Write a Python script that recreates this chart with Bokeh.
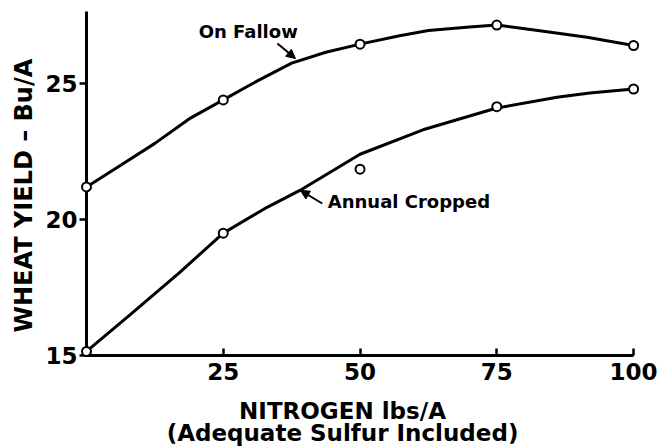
from bokeh.plotting import figure
from bokeh.models import Range1d, FixedTicker, Label, Arrow, NormalHead, Title
from bokeh.core.properties import value
from bokeh.embed import file_html
from bokeh.resources import INLINE

# ---- data ----
nitrogen = [0, 25, 50, 75, 100]
fallow_yield = [21.2, 24.4, 26.45, 27.15, 26.4]
annual_yield = [15.15, 19.5, 21.85, 24.15, 24.8]

# hand-drawn fitted curves
fallow_curve_x = [0, 6.25, 12.5, 18.75, 25, 31.25, 37.5, 43.75, 50, 57, 62.5, 70, 75, 82.5, 91.5, 100]
fallow_curve_y = [21.2, 22.0, 22.8, 23.7, 24.4, 25.1, 25.75, 26.15, 26.45, 26.75, 26.95, 27.08, 27.15, 26.95, 26.7, 26.4]
annual_curve_x = [0, 8, 17, 25, 33, 39, 50, 61.5, 75, 86, 92, 100]
annual_curve_y = [15.15, 16.5, 18.05, 19.5, 20.45, 21.07, 22.4, 23.3, 24.1, 24.5, 24.65, 24.8]

x_ticks = [25, 50, 75, 100]
y_ticks = [15, 20, 25]

x_title_lines = ["NITROGEN lbs/A", "(Adequate Sulfur Included)"]
y_title = "WHEAT YIELD \u2013 Bu/A"

FONT = "DejaVu Sans"
PX_PER_UNIT_Y = 344 / 12.65

p = figure(width=663, height=448, output_backend="svg", toolbar_location=None,
           x_range=Range1d(0, 100.9), y_range=Range1d(15, 27.65),
           min_border_left=86, min_border_right=25, min_border_top=11, min_border_bottom=93)
p.outline_line_color = None
p.grid.visible = False
p.background_fill_color = "white"
p.border_fill_color = "white"

xa = p.xaxis[0]
xa.ticker = FixedTicker(ticks=x_ticks)
xa.bounds = (0, 100)
xa.axis_line_width = 3
xa.major_tick_line_width = 2.5
xa.major_tick_in = 7
xa.major_tick_out = 0
xa.minor_tick_line_color = None
xa.major_label_standoff = 7
xa.major_label_text_font = FONT
xa.major_label_text_font_size = "23px"
xa.major_label_text_font_style = "bold"
xa.major_label_text_color = "black"

ya = p.yaxis[0]
ya.ticker = FixedTicker(ticks=y_ticks)
ya.axis_line_width = 3
ya.major_tick_line_width = 2.5
ya.major_tick_in = 0
ya.major_tick_out = 7
ya.minor_tick_line_color = None
ya.major_label_standoff = 2
ya.major_label_text_font = FONT
ya.major_label_text_font_size = "23px"
ya.major_label_text_font_style = "bold"
ya.major_label_text_color = "black"

# y-axis title
p.add_layout(Title(text=y_title, align="left", offset=23, standoff=9,
                   text_font=FONT, text_font_size="24px", text_font_style="bold",
                   text_color="black"), "left")

# curves
for cx, cy in [(fallow_curve_x, fallow_curve_y), (annual_curve_x, annual_curve_y)]:
    r = p.line(cx, cy, line_color="black", line_width=3)
    r.level = "overlay"

# observed points
for yy in [fallow_yield, annual_yield]:
    r = p.scatter(nitrogen, yy, marker="circle", size=9, fill_color="white",
                  line_color="black", line_width=2)
    r.level = "overlay"

# x-axis title (two lines) drawn as text below the axis
ty = [15 - 55 / PX_PER_UNIT_Y, 15 - 77 / PX_PER_UNIT_Y]
t = p.text(x=[46.8, 46.8], y=ty, text=x_title_lines, text_font=value(FONT),
           text_font_size=value("23px"), text_font_style="bold", text_align="center",
           text_baseline="alphabetic", text_color="black")
t.level = "overlay"

# series labels with arrows
p.add_layout(Label(x=20.5, y=26.93, text="On Fallow", text_font=FONT, text_font_size="18px",
                   text_font_style="bold", text_align="left", text_baseline="middle",
                   text_color="black"))
p.add_layout(Arrow(x_start=34.9, y_start=26.47, x_end=38.2, y_end=25.92, line_width=2,
                   end=NormalHead(size=9, fill_color="black", line_color="black")))
p.add_layout(Label(x=44.1, y=20.66, text="Annual Cropped", text_font=FONT, text_font_size="18px",
                   text_font_style="bold", text_align="left", text_baseline="middle",
                   text_color="black"))
p.add_layout(Arrow(x_start=43.1, y_start=20.59, x_end=39.1, y_end=21.07, line_width=2,
                   end=NormalHead(size=9, fill_color="black", line_color="black")))

open("out.html", "w").write(file_html(p, INLINE))
